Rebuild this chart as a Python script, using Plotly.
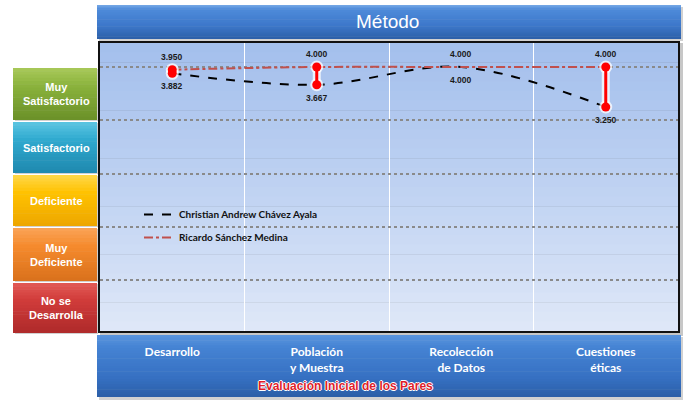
import plotly.graph_objects as go

# ---- data -------------------------------------------------------------
categories = ["Desarrollo", "Población<br>y Muestra", "Recolección<br>de Datos", "Cuestiones<br>éticas"]
christian = [3.882, 3.667, 4.000, 3.250]
ricardo = [3.950, 4.000, 4.000, 4.000]
series_names = ["Christian Andrew Chávez Ayala", "Ricardo Sánchez Medina"]
level_labels = ["No se<br>Desarrolla", "Muy<br>Deficiente", "Deficiente", "Satisfactorio", "Muy<br>Satisfactorio"]
level_values = [0, 1, 2, 3, 4]
chart_title = "Método"
footer = "Evaluación Inicial de los Pares"

W, H = 683, 400
L, R, T, B = 100, 5, 43, 69
PW, PH = W - L - R, H - T - B


def px(x):
    return (x - L) / PW


def py(y):
    return (H - B - y) / PH


def hex2rgb(h):
    h = h.lstrip("#")
    return tuple(int(h[i:i + 2], 16) for i in (0, 2, 4))


def blend(stops, t):
    # stops: list of (pos, hex)
    for (p0, c0), (p1, c1) in zip(stops, stops[1:]):
        if p0 <= t <= p1:
            f = 0 if p1 == p0 else (t - p0) / (p1 - p0)
            a, b = hex2rgb(c0), hex2rgb(c1)
            return "rgb(%d,%d,%d)" % tuple(round(a[k] + (b[k] - a[k]) * f) for k in range(3))
    return stops[-1][1]


shapes = []


def rect(x0, y0, x1, y1, color, line=None):
    shapes.append(dict(type="rect", xref="paper", yref="paper", layer="below",
                       x0=px(x0), x1=px(x1), y0=py(y1), y1=py(y0),
                       fillcolor=color, line=line or dict(width=0)))


def grad_rect(x0, y0, x1, y1, stops, n=24):
    step = (y1 - y0) / n
    for i in range(n):
        ya = y0 + i * step
        yb = min(y1, ya + step + 0.6)
        rect(x0, ya, x1, yb, blend(stops, (i + 0.5) / n))


def label(x, y, text, font):
    return dict(xref="paper", yref="paper", x=px(x), y=py(y), text=text, showarrow=False,
                xanchor="center", yanchor="middle", font=font)


# title band
rect(99, 7, 683, 41, "rgba(0,0,0,0.18)")
grad_rect(97, 5, 681, 39, [(0, "#7AAAE6"), (0.12, "#4E8BDA"), (0.6, "#3D78CA"), (1, "#2C5FA8")])

# plot frame with shadow
rect(100, 43, 683, 336, "rgba(0,0,0,0.22)")
rect(98, 41, 680, 333, "#111111")
grad_rect(100, 43, 678, 331, [(0, "#A3BFEC"), (0.5, "#BFD2F2"), (1, "#DFE8F8")], n=30)

# bottom band
rect(99, 337, 683, 400, "rgba(0,0,0,0.18)")
grad_rect(97, 335, 681, 397, [(0, "#5A95DE"), (0.2, "#4583D3"), (0.7, "#3670C2"), (1, "#2B5EA6")])

# rating level boxes
box_colors = [
    ("#E25A55", "#D03B3A", "#AE2A2A"),
    ("#FBA458", "#F58A2C", "#D9711C"),
    ("#FFD84A", "#FFC200", "#EDA600"),
    ("#5CC6E2", "#2FA9CF", "#1F88AE"),
    ("#A9C95A", "#8AB23C", "#6A9028"),
]
box_y = [(283, 333), (228, 281), (175, 226), (122, 173), (68, 120)]
annotations = []
for (c0, c1, c2), (y0, y1), lab in zip(box_colors, box_y, level_labels):
    rect(15, y0 + 1, 98, y1 + 1, "rgba(0,0,0,0.18)")
    grad_rect(13, y0, 97, y1, [(0, c0), (0.35, c1), (1, c2)], n=16)
    annotations.append(label(56, (y0 + y1) / 2, "<b>%s</b>" % lab,
                             dict(family="Liberation Sans", size=11, color="white")))

annotations.append(label(387, 22, chart_title,
                         dict(family="Liberation Sans", size=19, color="white")))
annotations.append(label(345, 386, "<b>%s</b>" % footer,
                         dict(family="Liberation Sans", size=12, color="#E01E2A",
                              shadow="1px 0px 0px #ffffff, -1px 0px 0px #ffffff, "
                                     "0px 1px 0px #ffffff, 0px -1px 0px #ffffff")))

xs = list(range(len(categories)))

# value labels: upper series above, lower series below
for i in xs:
    annotations.append(dict(x=i, y=ricardo[i], text="<b>%.3f</b>" % ricardo[i], showarrow=False,
                            xanchor="center", yanchor="middle", yshift=13,
                            font=dict(family="Liberation Sans", size=8.5, color="#1a1a1a")))
    annotations.append(dict(x=i, y=christian[i], text="<b>%.3f</b>" % christian[i], showarrow=False,
                            xanchor="center", yanchor="middle", yshift=-13,
                            font=dict(family="Liberation Sans", size=8.5, color="#1a1a1a")))

fig = go.Figure()

fig.add_trace(go.Scatter(x=xs, y=christian, name=series_names[0], mode="lines",
                         line=dict(color="black", width=2, dash="dash", shape="spline"),
                         legendgroup="a"))
fig.add_trace(go.Scatter(x=xs, y=ricardo, name=series_names[1], mode="lines",
                         line=dict(color="#C0504D", width=2, dash="dashdot", shape="spline"),
                         legendgroup="b"))

# high-low bars between the two series
for i in xs:
    lo, hi = min(christian[i], ricardo[i]), max(christian[i], ricardo[i])
    if hi <= lo:
        continue
    fig.add_trace(go.Scatter(x=[i, i], y=[lo, hi], mode="lines+markers", showlegend=False,
                             line=dict(color="rgba(255,255,255,0.75)", width=8),
                             marker=dict(size=13, color="rgba(255,255,255,0.75)"), hoverinfo="skip"))
    fig.add_trace(go.Scatter(x=[i, i], y=[lo, hi], mode="lines+markers", showlegend=False,
                             line=dict(color="#FF0000", width=3),
                             marker=dict(size=9, color="#FF0000"), hoverinfo="skip"))

fig.update_layout(
    width=W, height=H, margin=dict(l=L, r=R, t=T, b=B, pad=0),
    paper_bgcolor="white", plot_bgcolor="rgba(0,0,0,0)",
    shapes=shapes, annotations=annotations,
    showlegend=True,
    legend=dict(x=px(139), y=py(200), xanchor="left", yanchor="top", bgcolor="rgba(0,0,0,0)",
                font=dict(family="Lato", size=10, color="#111111", weight="bold"),
                tracegroupgap=4, itemwidth=30),
    xaxis=dict(range=[-0.5, 3.5], tickvals=xs, ticktext=categories, showgrid=False, zeroline=False,
               ticks="outside", ticklen=10, tickcolor="rgba(0,0,0,0)",
               tickfont=dict(family="Lato", size=12, color="white", weight="bold"),
               minor=dict(tickvals=[0.5, 1.5, 2.5], showgrid=True, gridcolor="white", gridwidth=1),
               fixedrange=True),
    yaxis=dict(range=[-0.95, 4.45], tickvals=level_values, showticklabels=False, showgrid=True,
               gridcolor="#8a8a8a", gridwidth=1.5, griddash="dot", zeroline=False, fixedrange=True),
)

fig.write_html("out.html")
